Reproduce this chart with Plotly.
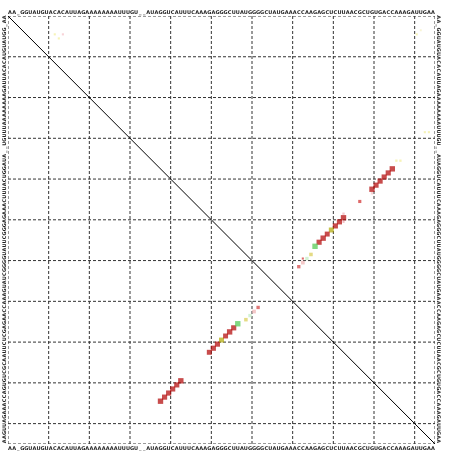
import plotly.graph_objects as go

sequence = "AA_GGUAUGUACACAUUAGAAAAAAAAUUUGU__AUAGGUCAUUUCAAAGAGGGCUUAUGGGGCUAUGAAACCAAGAGCUCUUAACGCUGUGACCAAAGAUUGAA"
n = len(sequence)
positions = list(range(1, n + 1))
letters = list(sequence)

# upper triangle: pair probabilities (i < j), size = sqrt(prob)
up_i = [5, 5, 6, 5, 4, 29, 29, 36, 36, 38, 39, 40, 41, 42, 43, 44, 46, 49, 50, 51, 51, 52, 53, 54, 55, 56, 57, 59, 60, 60, 61, 62]
up_j = [12, 14, 13, 101, 102, 103, 104, 96, 97, 95, 94, 93, 92, 91, 90, 90, 87, 83, 83, 82, 83, 81, 80, 79, 78, 77, 76, 75, 74, 73, 73, 72]
up_p = [0.2, 0.2, 0.2, 0.2, 0.15, 0.2, 0.2, 0.25, 0.25, 1.0, 0.95, 0.95, 0.95, 0.95, 1.0, 0.25, 0.45, 0.25, 1.0, 0.95, 0.2, 0.95, 0.9, 0.9, 1.0, 0.95, 1.0, 0.55, 0.5, 0.2, 0.6, 0.5]
up_c = ["#f2ee9a", "#f5c0c8", "#f2ee9a", "#f2ee9a", "#f5f0c0", "#f2ee9a", "#f2ee9a", "#f2ee9a", "#f2ee9a",
        "#b00000", "#b00000", "#b00000", "#b00000", "#b00000", "#b00000", "#f2c0c0", "#d02a2a", "#f0b0b8",
        "#b00000", "#b00000", "#f0a0a8", "#b00000", "#b0a800", "#b00000", "#b00000", "#b00000", "#4cc84c",
        "#d8cc50", "#c0ecc0", "#d03030", "#f0b0b0", "#d23c3c"]

# lower triangle: structure (i < j drawn at column i, row j)
lo_i = [38, 39, 40, 41, 42, 43, 50, 51, 52, 53, 54, 55, 56, 57, 59, 60, 61, 62]
lo_j = [95, 94, 93, 92, 91, 90, 83, 82, 81, 80, 79, 78, 77, 76, 75, 74, 73, 72]
lo_p = [1.0, 0.95, 0.95, 0.95, 0.95, 1.0, 0.9, 0.95, 0.95, 0.9, 0.9, 1.0, 0.95, 1.0, 0.55, 0.5, 0.6, 0.5]
lo_c = ["#b00000", "#b00000", "#b00000", "#b00000", "#b00000", "#b00000", "#b00000", "#b00000", "#b00000",
        "#b0a800", "#b00000", "#b00000", "#b00000", "#4cc84c", "#d8cc50", "#c0ecc0", "#f0b0b0", "#d23c3c"]

cell = 4.07
fig = go.Figure()
fig.add_trace(go.Scatter(
    x=up_j, y=up_i, mode="markers",
    marker=dict(symbol="square", size=[p * cell + 1.3 for p in up_p], color=up_c, line=dict(width=0)),
    hoverinfo="skip", showlegend=False, xaxis="x", yaxis="y"))
fig.add_trace(go.Scatter(
    x=lo_i, y=lo_j, mode="markers",
    marker=dict(symbol="square", size=[p * cell + 1.3 for p in lo_p], color=lo_c, line=dict(width=0)),
    hoverinfo="skip", showlegend=False, xaxis="x", yaxis="y"))
# invisible trace to activate secondary axes
fig.add_trace(go.Scatter(x=[1], y=[1], mode="markers", marker=dict(opacity=0), hoverinfo="skip",
                         showlegend=False, xaxis="x2", yaxis="y2"))

shapes = []
grid_vals = [0.5 + 10 * k for k in range(11)] + [n + 0.5]
for v in grid_vals:
    shapes.append(dict(type="line", xref="x", yref="y", x0=v, x1=v, y0=0.5, y1=n + 0.5,
                       line=dict(color="#333333", width=1, dash="3px,2px"), layer="below"))
    shapes.append(dict(type="line", xref="x", yref="y", x0=0.5, x1=n + 0.5, y0=v, y1=v,
                       line=dict(color="#333333", width=1, dash="3px,2px"), layer="below"))
shapes.append(dict(type="line", xref="x", yref="y", x0=0.5, y0=0.5, x1=n + 0.5, y1=n + 0.5,
                   line=dict(color="black", width=1)))

tickfont = dict(family="DejaVu Sans", size=5, color="#222222", weight="bold")
axis_common = dict(tickvals=positions, ticktext=letters, ticks="", automargin=False,
                   showgrid=False, zeroline=False, showline=False, tickfont=tickfont,
                   ticklabelstandoff=0)

fig.update_layout(
    width=452, height=451,
    margin=dict(l=8, r=17, t=16, b=7, autoexpand=False),
    paper_bgcolor="white", plot_bgcolor="white",
    shapes=shapes,
    xaxis=dict(side="top", tickangle=0, range=[0.5, n + 0.5], **axis_common),
    yaxis=dict(side="left", tickangle=-90, range=[n + 0.5, 0.5], **axis_common),
    xaxis2=dict(overlaying="x", side="bottom", tickangle=0, range=[0.5, n + 0.5], **axis_common),
    yaxis2=dict(overlaying="y", side="right", tickangle=90, range=[n + 0.5, 0.5], **axis_common),
)

post = ("document.body.style.margin='0';document.body.style.overflow='hidden';"
        "document.querySelectorAll('.main-svg').forEach(function(s){s.style.willChange='transform';});")
fig.write_html("out.html", post_script=post, config={"displayModeBar": False})
